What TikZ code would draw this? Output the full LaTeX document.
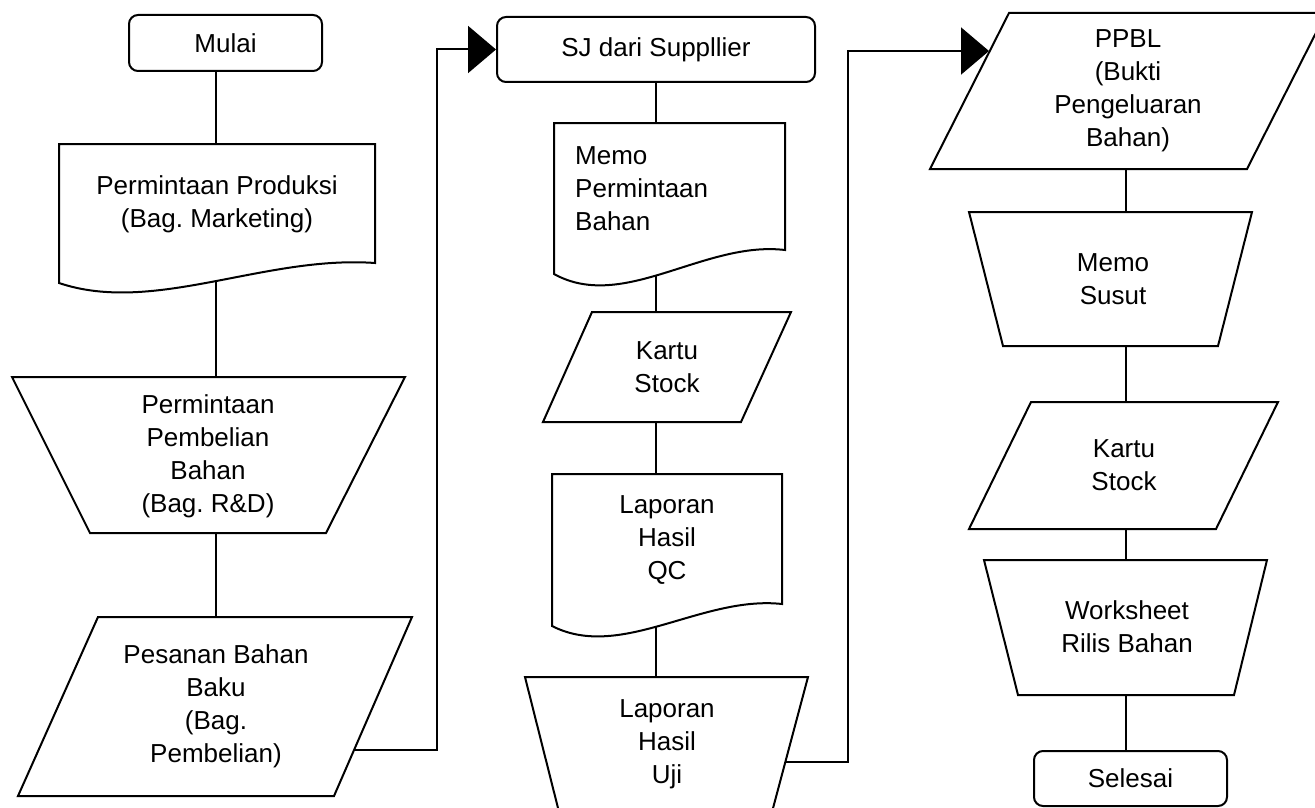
\documentclass[tikz,border=0pt]{standalone}
\usepackage{fontspec}
\setmainfont{Liberation Sans}
\usetikzlibrary{arrows.meta,calc}
\pgfdeclarelayer{bg}
\pgfsetlayers{bg,main}
\frenchspacing
\tikzset{
  shp/.style={draw=black, line width=2pt, fill=white, line join=miter},
  txt/.style={inner sep=0pt, align=center, font=\fontsize{26}{33}\selectfont},
  rbox/.style={shp, rounded corners=9pt, inner sep=0pt, font=\fontsize{26}{33}\selectfont},
  conn/.style={draw=black, line width=2pt},
  arr/.style={conn, -{Triangle[length=28pt,width=47pt]}},
}
% document shape: x0, x1, ytop, yleft, yright
\newcommand\docshape[5]{%
  \draw[shp] (#1,#3) -- (#2,#3) -- (#2,#5)
    .. controls ({#1+0.65*(#2-#1)},{#4-1.4*(#4-#5)}) and ({#1+0.3*(#2-#1)},{#4+1.6*(#4-#5)}) .. (#1,#4) -- cycle;}
\begin{document}
\begin{tikzpicture}[x=1pt,y=-1pt]
\useasboundingbox (0,0) rectangle (1315,808);
\clip (0,0) rectangle (1315,808);

\coordinate (c1) at (216,0);
\coordinate (c2) at (656,0);
\coordinate (c3) at (1126,0);
\coordinate (j1) at (437,750);
\coordinate (j2) at (848,762);
\coordinate (ppblin) at (989,51);

% ---------- column 1 ----------
\node[rbox, minimum width=193pt, minimum height=56pt] (mulai) at (225.5,43) {Mulai};

\docshape{59}{375}{144}{283}{263}
\node[txt] (doc1) at (217,204.5) {Permintaan Produksi\\(Bag. Marketing)};

\draw[shp] (12,377) -- (405,377) -- (326,533) -- (90,533) -- cycle;
\node[txt] (trap1) at (208,456) {Permintaan\\Pembelian\\Bahan\\(Bag. R\&D)};

\draw[shp] (98,617) -- (412,617) -- (334,796) -- (18,796) -- cycle;
\node[txt] (para1) at (216,706.5) {Pesanan Bahan\\Baku\\(Bag.\\Pembelian)};

% ---------- column 2 ----------
\node[rbox, minimum width=318pt, minimum height=65pt] (sj) at (656,49.5) {SJ dari Suppllier};

\docshape{554}{785}{123}{274}{250}
\node[txt, align=left, anchor=west] (doc2) at (575,189) {Memo\\Permintaan\\Bahan};

\draw[shp] (592,312) -- (791,312) -- (741,422) -- (543,422) -- cycle;
\node[txt] (para2) at (667,367.5) {Kartu\\Stock};

\docshape{552}{782}{474}{626}{604}
\node[txt] (doc3) at (667,540) {Laporan\\Hasil\\QC};

\draw[shp] (525,677) -- (808,677) -- (772,812) -- (559,812) -- cycle;
\node[txt] (trap2) at (667,744) {Laporan\\Hasil\\Uji};

% ---------- column 3 ----------
\draw[shp] (1009,13) -- (1326,13) -- (1247,169) -- (930,169) -- cycle;
\node[txt] (ppbl) at (1128,91) {PPBL\\(Bukti\\Pengeluaran\\Bahan)};

\draw[shp] (969,212) -- (1252,212) -- (1218,346) -- (1003,346) -- cycle;
\node[txt] (trap3) at (1113,279.5) {Memo\\Susut};

\draw[shp] (1031,402) -- (1278,402) -- (1216,529) -- (969,529) -- cycle;
\node[txt] (para3) at (1124,465.5) {Kartu\\Stock};

\draw[shp] (984,560) -- (1267,560) -- (1234,695) -- (1018,695) -- cycle;
\node[txt] (trap4) at (1127,626.5) {Worksheet\\Rilis Bahan};

\node[rbox, minimum width=193pt, minimum height=55pt] (selesai) at (1130.5,778.5) {Selesai};

% ---------- connectors (behind the shapes) ----------
\begin{pgfonlayer}{bg}
\draw[conn] (mulai.center -| c1) -- (doc1.center -| c1);
\draw[conn] (doc1.center -| c1) -- (trap1.center -| c1);
\draw[conn] (trap1.center -| c1) -- (para1.center -| c1);
\draw[arr] (para1.center |- j1) -- (j1) |- (sj.west);

\draw[conn] (sj.center -| c2) -- (doc2.center -| c2);
\draw[conn] (doc2.center -| c2) -- (para2.center -| c2);
\draw[conn] (para2.center -| c2) -- (doc3.center -| c2);
\draw[conn] (doc3.center -| c2) -- (trap2.center -| c2);
\draw[arr] (trap2.center |- j2) -- (j2) |- (ppblin);

\draw[conn] (ppbl.center -| c3) -- (trap3.center -| c3);
\draw[conn] (trap3.center -| c3) -- (para3.center -| c3);
\draw[conn] (para3.center -| c3) -- (trap4.center -| c3);
\draw[conn] (trap4.center -| c3) -- (selesai.center -| c3);
\end{pgfonlayer}
\end{tikzpicture}
\end{document}
